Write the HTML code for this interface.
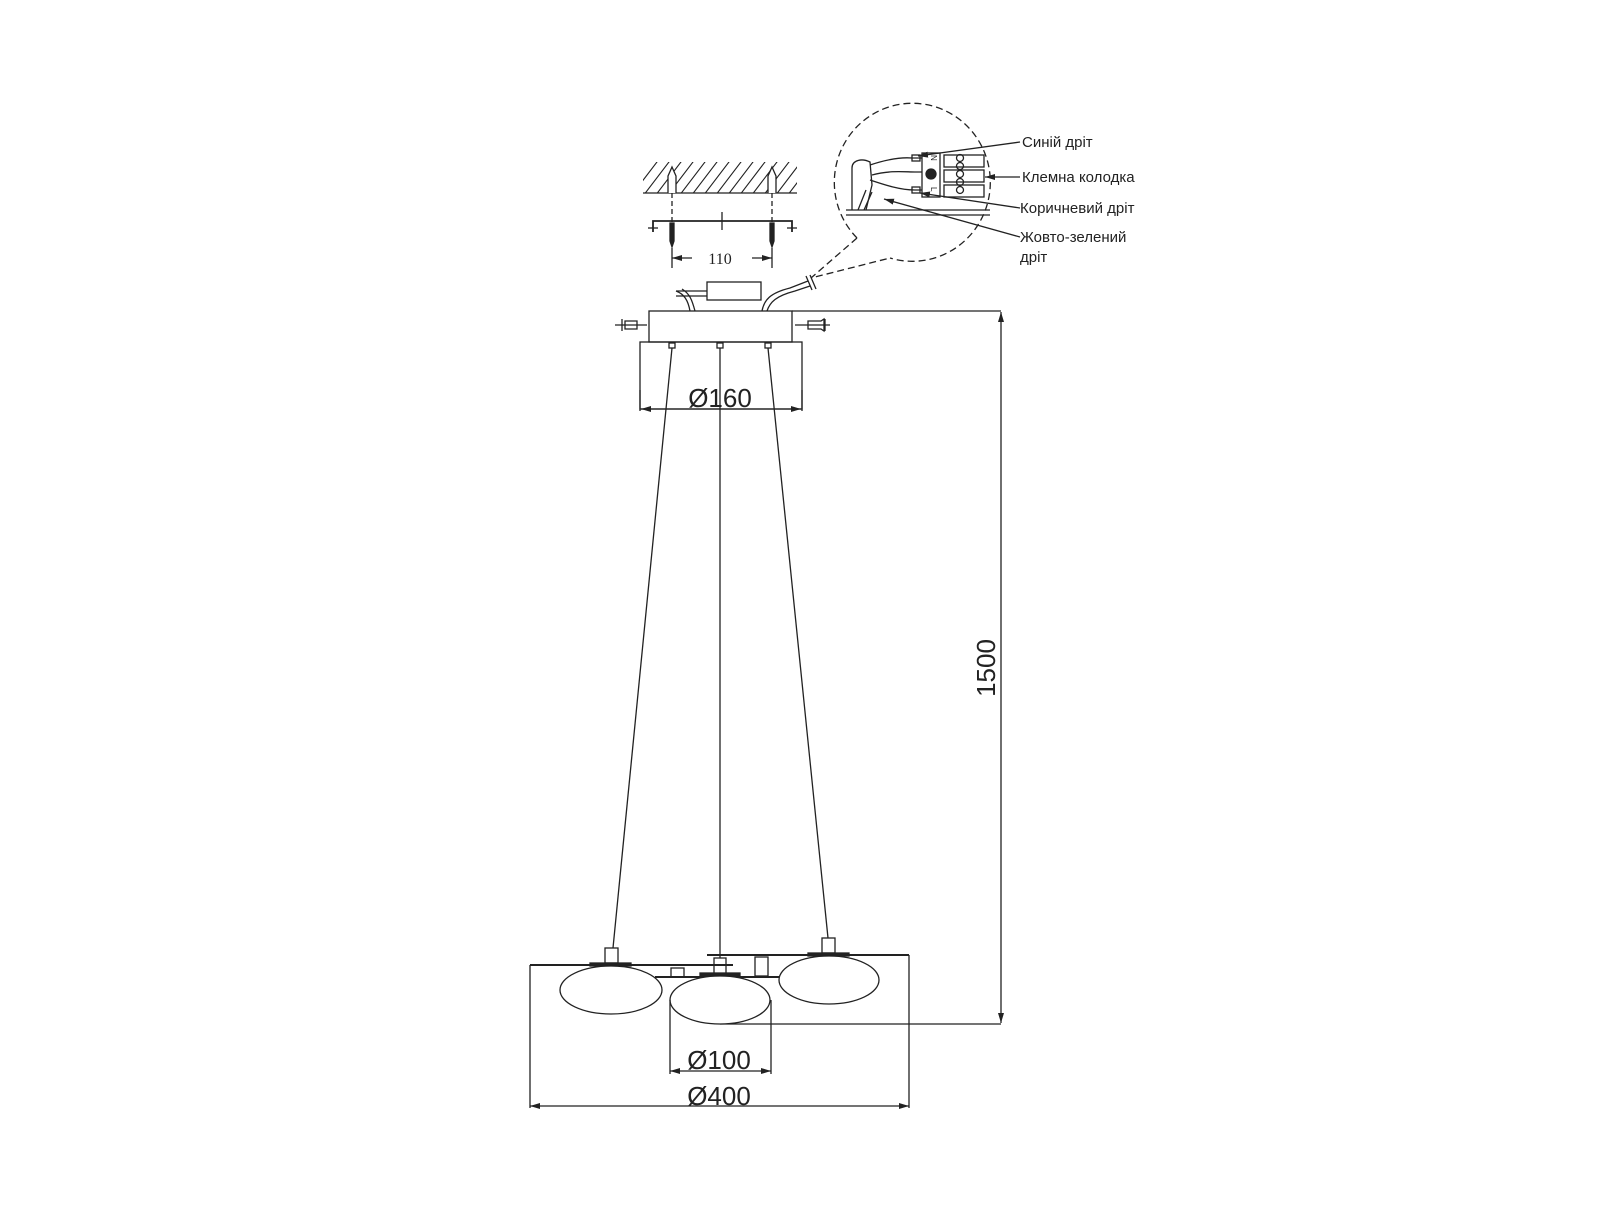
<!DOCTYPE html>
<html><head><meta charset="utf-8"><style>html,body{margin:0;padding:0;background:#fff}svg{display:block}</style></head>
<body>
<svg width="1617" height="1212" viewBox="0 0 1617 1212" xmlns="http://www.w3.org/2000/svg" font-family="Liberation Sans, sans-serif">
<defs>
<clipPath id="hc"><rect x="643" y="162" width="154" height="31"/></clipPath>
<marker id="ar" viewBox="0 0 10 6" refX="10" refY="3" markerWidth="10" markerHeight="6" orient="auto-start-reverse" markerUnits="userSpaceOnUse"><path d="M0,0 L10,3 L0,6 z" fill="#222"/></marker>
</defs>
<g stroke="#222" fill="none" stroke-width="1.3">
<g clip-path="url(#hc)" stroke-width="1.1">
<path d="M640,200 l32,-42 M652,200 l32,-42 M664,200 l32,-42 M676,200 l32,-42 M688,200 l32,-42 M700,200 l32,-42 M712,200 l32,-42 M724,200 l32,-42 M736,200 l32,-42 M748,200 l32,-42 M760,200 l32,-42 M772,200 l32,-42 M784,200 l32,-42 M628,200 l32,-42"/>
</g>
<line x1="643" y1="193" x2="797" y2="193"/>
<path d="M668,193 L668,176 L672,167 L676,176 L676,193" fill="#fff"/>
<path d="M768,193 L768,176 L772,167 L776,176 L776,193" fill="#fff"/>
<line x1="672" y1="193" x2="672" y2="222" stroke-dasharray="5,3"/>
<line x1="772" y1="193" x2="772" y2="222" stroke-dasharray="5,3"/>
<path d="M653,232 L653,221 L792,221 L792,232" stroke-width="1.8"/>
<line x1="648" y1="228" x2="658" y2="228"/><line x1="787" y1="228" x2="797" y2="228"/>
<line x1="722" y1="212" x2="722" y2="230"/>
<path d="M670,223 h4 v18 l-2,6 l-2,-6z" fill="#222"/>
<path d="M770,223 h4 v18 l-2,6 l-2,-6z" fill="#222"/>
<line x1="672" y1="248" x2="672" y2="268"/><line x1="772" y1="248" x2="772" y2="268"/>
<line x1="672" y1="258" x2="692" y2="258" marker-start="url(#ar)"/>
<line x1="752" y1="258" x2="772" y2="258" marker-end="url(#ar)"/>
<rect x="707" y="282" width="54" height="18"/>
<path d="M690,311 C688,300 684,294 676,291 M695,311 C692,300 690,294 682,289 M676,291 L707,291 M676,296 L707,296"/>
<path d="M762,311 C764,300 770,293 790,288 L808,281 M767,311 C770,302 776,296 795,291 L810,286"/>
<path d="M806,276 L812,290 M810,275 L816,289"/>
<rect x="649" y="311" width="143" height="31"/>
<rect x="640" y="342" width="162" height="67"/>
<line x1="792" y1="311" x2="1001" y2="311"/>
<path d="M615,325 h32 M622,319 v12 M625,321 h12 v8 h-12 z"/>
<path d="M795,325 h35 M825,319 v12 M808,321 h13 l3,-2 v12 l-3,-2 h-13 z"/>
<rect x="669" y="343" width="6" height="5"/><rect x="717" y="343" width="6" height="5"/><rect x="765" y="343" width="6" height="5"/>
<line x1="672" y1="348" x2="613" y2="948"/>
<line x1="720" y1="348" x2="720" y2="958"/>
<line x1="768" y1="348" x2="828" y2="938"/>
<line x1="640" y1="390" x2="640" y2="411"/><line x1="802" y1="390" x2="802" y2="411"/>
<line x1="641" y1="409" x2="801" y2="409" marker-start="url(#ar)" marker-end="url(#ar)"/>
<!-- detail circle -->
<path d="M857,238 A78,79 0 1 1 890,258" stroke-dasharray="7,4"/>
<path d="M857,238 L811,278 L890,258" stroke-dasharray="7,4"/>
<line x1="846" y1="210" x2="990" y2="210"/><line x1="846" y1="215" x2="990" y2="215"/>
<path d="M852,210 L852,168 C852,160 862,158 870,162 L872,185 L866,210"/>
<path d="M870,165 C885,160 900,157 912,158 L922,158 M872,175 C890,170 905,172 915,172 L922,172 M870,180 C885,185 900,190 915,190 L922,190 M866,190 L858,210 M872,192 L864,210"/>
<rect x="912" y="155" width="8" height="6"/><rect x="912" y="187" width="8" height="6"/>
<rect x="922" y="153" width="18" height="44"/>
<circle cx="931" cy="174" r="5" fill="#222"/>
<text x="926" y="160" font-size="8" fill="#222" stroke="none" transform="rotate(90 931 160)">N</text>
<text x="926" y="192" font-size="8" fill="#222" stroke="none" transform="rotate(90 931 192)">L</text>
<rect x="944" y="155" width="40" height="12"/><rect x="944" y="170" width="40" height="12"/><rect x="944" y="185" width="40" height="12"/>
<circle cx="960" cy="158" r="3.5"/><circle cx="960" cy="166" r="3.5"/><circle cx="960" cy="174" r="3.5"/><circle cx="960" cy="182" r="3.5"/><circle cx="960" cy="190" r="3.5"/>
<line x1="1020" y1="142" x2="918" y2="156" marker-end="url(#ar)"/>
<line x1="1020" y1="177" x2="985" y2="177" marker-end="url(#ar)"/>
<line x1="1020" y1="208" x2="920" y2="193" marker-end="url(#ar)"/>
<line x1="1020" y1="237" x2="884" y2="199" marker-end="url(#ar)"/>
<line x1="1001" y1="312" x2="1001" y2="1023" marker-start="url(#ar)" marker-end="url(#ar)"/>
<line x1="720" y1="1024" x2="1001" y2="1024"/>
<line x1="530" y1="965" x2="733" y2="965" stroke-width="2"/>
<line x1="707" y1="955" x2="909" y2="955" stroke-width="2"/>
<line x1="655" y1="977" x2="820" y2="977" stroke-width="2"/>
<rect x="671" y="968" width="13" height="9"/>
<rect x="755" y="957" width="13" height="19"/>
<rect x="605" y="948" width="13" height="15"/><rect x="590" y="963" width="41" height="3" fill="#222"/>
<rect x="714" y="958" width="12" height="17"/><rect x="700" y="973" width="40" height="3" fill="#222"/>
<rect x="822" y="938" width="13" height="15"/><rect x="808" y="953" width="41" height="3" fill="#222"/>
<ellipse cx="611" cy="990" rx="51" ry="24" fill="#fff"/>
<ellipse cx="720" cy="1000" rx="50" ry="24" fill="#fff"/>
<ellipse cx="829" cy="980" rx="50" ry="24" fill="#fff"/>
<line x1="670" y1="1000" x2="670" y2="1074"/><line x1="771" y1="1000" x2="771" y2="1074"/>
<line x1="670" y1="1071" x2="771" y2="1071" marker-start="url(#ar)" marker-end="url(#ar)"/>
<line x1="530" y1="965" x2="530" y2="1108"/><line x1="909" y1="955" x2="909" y2="1108"/>
<line x1="530" y1="1106" x2="909" y2="1106" marker-start="url(#ar)" marker-end="url(#ar)"/>
</g>
<g fill="#222">
<text x="720" y="264" font-family="Liberation Serif, serif" font-size="16" text-anchor="middle">110</text>
<text x="720" y="407" font-size="26" text-anchor="middle">Ø160</text>
<text x="719" y="1069" font-size="26" text-anchor="middle">Ø100</text>
<text x="719" y="1105" font-size="26" text-anchor="middle">Ø400</text>
<text x="0" y="0" font-size="26" text-anchor="middle" transform="translate(995,668) rotate(-90)">1500</text>
<g font-size="15">
<text x="1022" y="147">Синій дріт</text>
<text x="1022" y="182">Клемна колодка</text>
<text x="1020" y="213">Коричневий дріт</text>
<text x="1020" y="242">Жовто-зелений</text>
<text x="1020" y="262">дріт</text>
</g>
</g>
</svg>
</body></html>
